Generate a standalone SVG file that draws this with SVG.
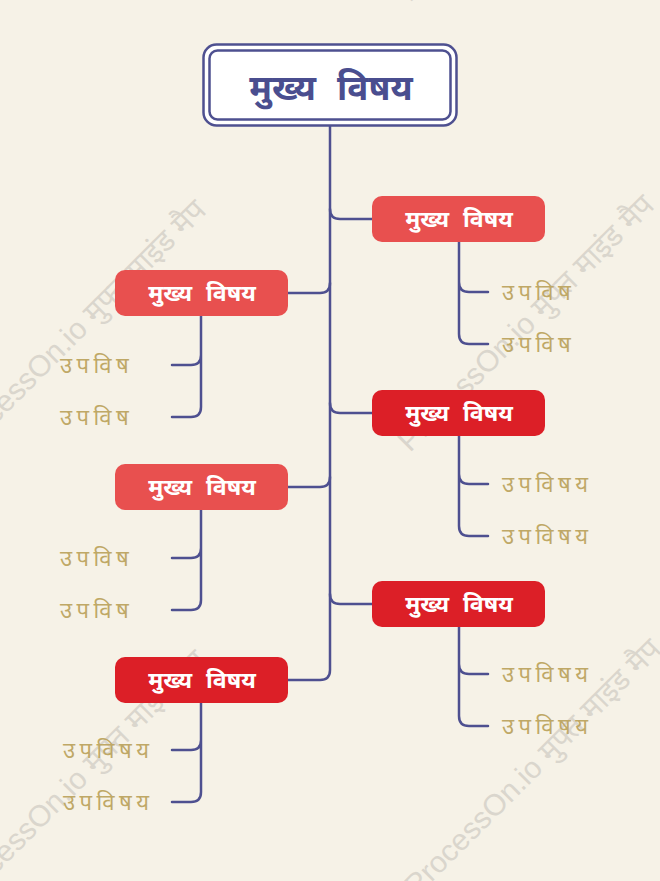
<svg xmlns="http://www.w3.org/2000/svg" width="660" height="881" viewBox="0 0 660 881">
<style>
.wm{font-family:"Liberation Sans","Noto Sans","DejaVu Sans",sans-serif;font-size:30px;fill:#dad6cd}
.conn{fill:none;stroke:#4e5090;stroke-width:2.5;stroke-linecap:round}
.main{font-family:"Noto Sans","DejaVu Sans","Liberation Sans",sans-serif;font-weight:bold;font-size:35px;word-spacing:12px;fill:#4a4e8f}
.lbl{font-family:"Noto Sans","DejaVu Sans","Liberation Sans",sans-serif;font-weight:bold;font-size:23px;word-spacing:8px;fill:#ffffff}
.sub{font-family:"Noto Sans","DejaVu Sans","Liberation Sans",sans-serif;font-size:22px;letter-spacing:4.5px;fill:#bfa866}
.light{fill:#e8504f}
.dark{fill:#dc1f27}
</style>
<rect width="660" height="881" fill="#f6f2e7"/>
<g id="watermarks">
<text class="wm" transform="translate(-38,458) rotate(-45)">ProcessOn.io मुफ्त माइंड मैप</text>
<text class="wm" transform="translate(410,453) rotate(-45)">ProcessOn.io मुफ्त माइंड मैप</text>
<text class="wm" transform="translate(-38,908) rotate(-45)">ProcessOn.io मुफ्त माइंड मैप</text>
<text class="wm" transform="translate(417,897) rotate(-45)">ProcessOn.io मुफ्त माइंड मैप</text>
<text class="wm" transform="translate(410,3) rotate(-45)">ProcessOn.io मुफ्त माइंड मैप</text>
</g>
<g id="connectors">
<path class="conn" d="M330,126 V670 Q330,680 320,680 H288"/>
<path class="conn" d="M330,209 Q330,219 340,219 H372"/>
<path class="conn" d="M330,283 Q330,293 320,293 H288"/>
<path class="conn" d="M330,403 Q330,413 340,413 H372"/>
<path class="conn" d="M330,477 Q330,487 320,487 H288"/>
<path class="conn" d="M330,594 Q330,604 340,604 H372"/>
<path class="conn" d="M459,242 V282 Q459,292 469,292 H488 M459,282 V334 Q459,344 469,344 H488"/>
<path class="conn" d="M201,316 V355 Q201,365 191,365 H172 M201,355 V407 Q201,417 191,417 H172"/>
<path class="conn" d="M459,436 V474 Q459,484 469,484 H488 M459,474 V526 Q459,536 469,536 H488"/>
<path class="conn" d="M201,510 V548 Q201,558 191,558 H172 M201,548 V600 Q201,610 191,610 H172"/>
<path class="conn" d="M459,627 V664 Q459,674 469,674 H488 M459,664 V716 Q459,726 469,726 H488"/>
<path class="conn" d="M201,703 V740 Q201,750 191,750 H172 M201,740 V792 Q201,802 191,802 H172"/>
</g>
<g id="central">
<rect x="203.5" y="44.5" width="253" height="81" rx="13" fill="#ffffff" stroke="#4e5090" stroke-width="2.5"/>
<rect x="209.5" y="50.5" width="241" height="69" rx="8" fill="none" stroke="#4e5090" stroke-width="2.5"/>
<text class="main" x="331" y="100" text-anchor="middle">मुख्य विषय</text>
</g>
<g id="topic-r1"><rect class="light" x="372" y="196" width="173" height="46" rx="10"/><text class="lbl" x="459" y="227" text-anchor="middle">मुख्य विषय</text></g>
<g id="topic-l1"><rect class="light" x="115" y="270" width="173" height="46" rx="10"/><text class="lbl" x="202" y="301" text-anchor="middle">मुख्य विषय</text></g>
<g id="topic-r2"><rect class="dark" x="372" y="390" width="173" height="46" rx="10"/><text class="lbl" x="459" y="421" text-anchor="middle">मुख्य विषय</text></g>
<g id="topic-l2"><rect class="light" x="115" y="464" width="173" height="46" rx="10"/><text class="lbl" x="202" y="495" text-anchor="middle">मुख्य विषय</text></g>
<g id="topic-r3"><rect class="dark" x="372" y="581" width="173" height="46" rx="10"/><text class="lbl" x="459" y="612" text-anchor="middle">मुख्य विषय</text></g>
<g id="topic-l3"><rect class="dark" x="115" y="657" width="173" height="46" rx="10"/><text class="lbl" x="202" y="688" text-anchor="middle">मुख्य विषय</text></g>
<g id="sub-r1a"><text class="sub" x="502" y="300">उपविष</text></g>
<g id="sub-r1b"><text class="sub" x="502" y="352">उपविष</text></g>
<g id="sub-l1a"><text class="sub" x="60" y="373">उपविष</text></g>
<g id="sub-l1b"><text class="sub" x="60" y="425">उपविष</text></g>
<g id="sub-r2a"><text class="sub" x="502" y="492">उपविषय</text></g>
<g id="sub-r2b"><text class="sub" x="502" y="544">उपविषय</text></g>
<g id="sub-l2a"><text class="sub" x="60" y="566">उपविष</text></g>
<g id="sub-l2b"><text class="sub" x="60" y="618">उपविष</text></g>
<g id="sub-r3a"><text class="sub" x="502" y="682">उपविषय</text></g>
<g id="sub-r3b"><text class="sub" x="502" y="734">उपविषय</text></g>
<g id="sub-l3a"><text class="sub" x="63" y="758">उपविषय</text></g>
<g id="sub-l3b"><text class="sub" x="63" y="810">उपविषय</text></g>
</svg>
